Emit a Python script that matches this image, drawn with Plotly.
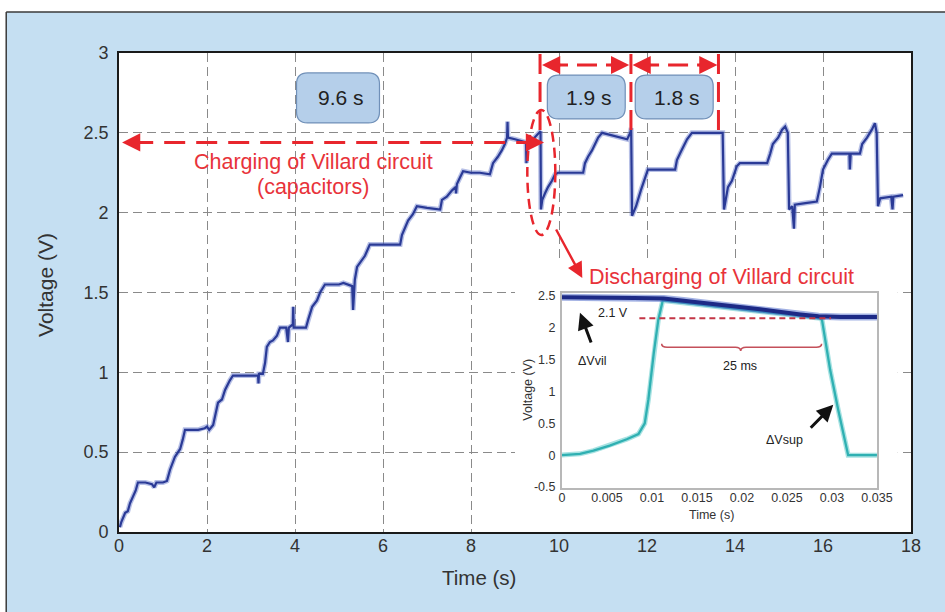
import plotly.graph_objects as go

# ---------------- data ----------------
main_t = [0.02, 0.05, 0.14, 0.20, 0.25, 0.32, 0.38, 0.43, 0.60, 0.75, 0.80, 0.85, 1.00, 1.09,
          1.16, 1.27, 1.35, 1.39, 1.45, 1.50, 1.80, 1.95, 2.00, 2.05, 2.14, 2.18, 2.25, 2.34,
          2.41, 2.52, 2.59, 2.90, 3.16, 3.17, 3.18, 3.27, 3.32, 3.36, 3.43, 3.50, 3.59, 3.66,
          3.80, 3.84, 3.86, 3.95, 3.96, 3.97, 4.25, 4.30, 4.39, 4.50, 4.57, 4.68, 5.00, 5.10,
          5.30, 5.32, 5.34, 5.36, 5.41, 5.52, 5.59, 5.70, 6.39, 6.43, 6.50, 6.57, 6.68, 6.77,
          7.00, 7.30, 7.34, 7.45, 7.57, 7.65, 7.66, 7.68, 7.75, 7.82, 8.00, 8.20, 8.43, 8.50,
          8.61, 8.70, 8.77, 8.82, 8.83, 8.84, 9.00, 9.25, 9.26, 9.28, 9.41, 9.55, 9.58, 9.59,
          9.62, 9.68, 9.75, 9.84, 9.91, 9.98, 10.30, 10.55, 10.59, 10.66, 10.75, 10.82, 10.89,
          10.98, 11.30, 11.55, 11.62, 11.64, 11.66, 11.75, 11.86, 11.95, 12.02, 12.64, 12.68,
          12.75, 12.82, 12.91, 13.02, 13.70, 13.72, 13.75, 13.84, 13.93, 14.04, 14.11, 14.73,
          14.80, 14.86, 14.98, 15.07, 15.14, 15.20, 15.23, 15.30, 15.34, 15.36, 15.60, 15.86,
          15.93, 16.00, 16.11, 16.20, 16.60, 16.61, 16.63, 16.84, 16.89, 17.00, 17.11, 17.18,
          17.22, 17.25, 17.30, 17.55, 17.58, 17.60, 17.82]
main_v = [0.03, 0.06, 0.12, 0.13, 0.18, 0.22, 0.26, 0.31, 0.31, 0.30, 0.28, 0.31, 0.31, 0.32,
          0.39, 0.47, 0.50, 0.52, 0.58, 0.64, 0.64, 0.65, 0.66, 0.64, 0.67, 0.72, 0.81, 0.83,
          0.89, 0.95, 0.98, 0.98, 0.98, 0.93, 0.99, 0.99, 1.06, 1.16, 1.19, 1.20, 1.23, 1.28,
          1.28, 1.19, 1.28, 1.30, 1.41, 1.28, 1.28, 1.33, 1.41, 1.45, 1.50, 1.55, 1.55, 1.56,
          1.54, 1.39, 1.55, 1.58, 1.66, 1.70, 1.73, 1.80, 1.80, 1.86, 1.91, 1.95, 1.99, 2.04,
          2.03, 2.02, 2.08, 2.10, 2.14, 2.16, 2.12, 2.18, 2.22, 2.26, 2.25, 2.25, 2.24, 2.31,
          2.35, 2.39, 2.43, 2.47, 2.57, 2.47, 2.46, 2.44, 2.31, 2.44, 2.46, 2.50, 2.51, 2.02,
          2.08, 2.12, 2.16, 2.20, 2.24, 2.25, 2.25, 2.25, 2.31, 2.35, 2.39, 2.43, 2.47,
          2.50, 2.48, 2.46, 2.50, 2.53, 1.98, 2.04, 2.14, 2.22, 2.27, 2.27, 2.33,
          2.37, 2.41, 2.46, 2.50, 2.50, 2.50, 2.02, 2.16, 2.20, 2.29, 2.31, 2.31,
          2.37, 2.43, 2.47, 2.52, 2.54, 2.50, 2.02, 2.04, 1.90, 2.05, 2.06, 2.07,
          2.16, 2.27, 2.33, 2.37, 2.37, 2.27, 2.37, 2.37, 2.43, 2.47, 2.52, 2.56,
          2.50, 2.04, 2.09, 2.10, 2.02, 2.10, 2.11]

vsup_t = [0.0, 0.002, 0.0035, 0.0053, 0.0072, 0.0085, 0.0092, 0.0096, 0.0102, 0.0107, 0.0112,
          0.013, 0.0165, 0.022, 0.0258, 0.0287, 0.0289, 0.0298, 0.0307, 0.0318, 0.035]
vsup_v = [0.0, 0.02, 0.07, 0.15, 0.25, 0.33, 0.50, 0.87, 1.60, 2.12, 2.43,
          2.40, 2.35, 2.26, 2.20, 2.15, 2.12, 1.34, 0.71, 0.0, 0.0]

vvil_t = [0.0, 0.004, 0.008, 0.0113, 0.0135, 0.0165, 0.019, 0.022, 0.0245, 0.0265, 0.0285,
          0.031, 0.035]
vvil_v = [2.48, 2.48, 2.47, 2.46, 2.43, 2.38, 2.34, 2.29, 2.24, 2.21, 2.18, 2.17, 2.17]

main_xticks = [0, 2, 4, 6, 8, 10, 12, 14, 16, 18]
main_yticks = [0, 0.5, 1, 1.5, 2, 2.5, 3]
inset_xticks = [0, 0.005, 0.01, 0.015, 0.02, 0.025, 0.03, 0.035]
inset_xlabels = ["0", "0.005", "0.01", "0.015", "0.02", "0.025", "0.03", "0.035"]
inset_yticks = [-0.5, 0, 0.5, 1, 1.5, 2, 2.5]
inset_ylabels = ["-0.5", "0", "0.5", "1", "1.5", "2", "2.5"]

FONT = "Liberation Sans, Arial, sans-serif"
RED = "#e8262d"
BLUEBG = "#c5dff2"

fig = go.Figure()

# main trace (halo + core)
fig.add_trace(go.Scatter(x=main_t, y=main_v, mode="lines",
                         line=dict(color="rgba(95,115,200,0.45)", width=5),
                         hoverinfo="skip", showlegend=False, xaxis="x", yaxis="y"))
fig.add_trace(go.Scatter(x=main_t, y=main_v, mode="lines",
                         line=dict(color="#2a3a96", width=2.2),
                         hoverinfo="skip", showlegend=False, xaxis="x", yaxis="y"))

# inset traces
fig.add_trace(go.Scatter(x=vsup_t, y=vsup_v, mode="lines",
                         line=dict(color="rgba(60,190,190,0.45)", width=5),
                         hoverinfo="skip", showlegend=False, xaxis="x2", yaxis="y2"))
fig.add_trace(go.Scatter(x=vsup_t, y=vsup_v, mode="lines",
                         line=dict(color="#2fb0b2", width=2.3),
                         hoverinfo="skip", showlegend=False, xaxis="x2", yaxis="y2"))
fig.add_trace(go.Scatter(x=vvil_t, y=vvil_v, mode="lines",
                         line=dict(color="rgba(70,100,200,0.5)", width=7),
                         hoverinfo="skip", showlegend=False, xaxis="x2", yaxis="y2"))
fig.add_trace(go.Scatter(x=vvil_t, y=vvil_v, mode="lines",
                         line=dict(color="#1d2a86", width=4),
                         hoverinfo="skip", showlegend=False, xaxis="x2", yaxis="y2"))


def rrect(x0, x1, y0, y1, rx=0.25, ry=0.07):
    return (f"M {x0+rx},{y1} L {x1-rx},{y1} Q {x1},{y1} {x1},{y1-ry} "
            f"L {x1},{y0+ry} Q {x1},{y0} {x1-rx},{y0} L {x0+rx},{y0} "
            f"Q {x0},{y0} {x0},{y0+ry} L {x0},{y1-ry} Q {x0},{y1} {x0+rx},{y1} Z")


shapes = []
# outer frame: white strips + dark border
shapes.append(dict(type="rect", xref="paper", yref="paper", x0=-0.2, x1=1.2, y0=1.0856, y1=1.3,
                   fillcolor="white", line=dict(width=0), layer="below"))
shapes.append(dict(type="rect", xref="paper", yref="paper", x0=-0.2, x1=-0.1424, y0=-0.3, y1=1.3,
                   fillcolor="white", line=dict(width=0), layer="below"))
shapes.append(dict(type="line", xref="paper", yref="paper", x0=-0.1424, x1=1.2, y0=1.0856, y1=1.0856,
                   line=dict(color="#3a3a3a", width=1.5), layer="below"))
shapes.append(dict(type="line", xref="paper", yref="paper", x0=-0.1424, x1=-0.1424, y0=-0.3, y1=1.0856,
                   line=dict(color="#3a3a3a", width=1.5), layer="below"))
# white area behind the inset (covers main grid)
shapes.append(dict(type="rect", xref="x", yref="y", x0=9.0, x1=17.7, y0=0, y1=1.685,
                   fillcolor="white", line=dict(width=0), layer="between"))

# boxes
box_style = dict(fillcolor="#b5cfea", line=dict(color="#7090b8", width=1.2), layer="above")
shapes.append(dict(type="path", xref="x", yref="y", path=rrect(4.035, 5.92, 2.562, 2.875), **box_style))
shapes.append(dict(type="path", xref="x", yref="y", path=rrect(9.735, 11.505, 2.587, 2.862), **box_style))
shapes.append(dict(type="path", xref="x", yref="y", path=rrect(11.733, 13.504, 2.587, 2.862), **box_style))

# red dashed lines
dl = dict(color=RED, width=3, dash="21px,11px")
shapes.append(dict(type="line", xref="x", yref="y", x0=0.3, x1=9.4, y0=2.44, y1=2.44, line=dl, layer="above"))
vl = dict(color=RED, width=3, dash="20px,8px")
for tx in [9.569, 11.635, 13.624]:
    shapes.append(dict(type="line", xref="x", yref="y", x0=tx, x1=tx, y0=2.518, y1=3.0, line=vl, layer="above"))
for a, b in [(9.75, 11.45), (11.82, 13.45)]:
    shapes.append(dict(type="line", xref="x", yref="y", x0=a, x1=b, y0=2.925, y1=2.925,
                       line=dict(color=RED, width=3, dash="20px,9px"), layer="above"))
# ellipse
shapes.append(dict(type="circle", xref="x", yref="y", x0=9.28, x1=9.916, y0=1.86, y1=2.643,
                   line=dict(color=RED, width=2.5, dash="10px,6px"), layer="above"))

# inset red dashed level line and brace
shapes.append(dict(type="line", xref="x2", yref="y2", x0=0.0086, x1=0.0299, y0=2.15, y1=2.15,
                   line=dict(color="#c43646", width=2, dash="6px,4px"), layer="above"))
t0, tc, t1 = 0.01108, 0.01986, 0.02885
yb, ye, yc = 1.695, 1.75, 1.635
d = 0.0006
brace = (f"M {t0},{ye} Q {t0},{yb} {t0+d},{yb} L {tc-d},{yb} Q {tc},{yb} {tc},{yc} "
         f"Q {tc},{yb} {tc+d},{yb} L {t1-d},{yb} Q {t1},{yb} {t1},{ye}")
shapes.append(dict(type="path", xref="x2", yref="y2", path=brace,
                   line=dict(color="#c4505a", width=1.6), layer="above"))

annotations = []
# box texts
for tx, txt in [(5.045, "9.6 s"), (10.68, "1.9 s"), (12.686, "1.8 s")]:
    annotations.append(dict(x=tx, y=2.72, xref="x", yref="y", text=txt, showarrow=False,
                            xanchor="center", yanchor="middle",
                            font=dict(family=FONT, size=21, color="#222")))
# arrowheads
def head(x, y, ax, ay=0):
    return dict(x=x, y=y, xref="x", yref="y", ax=ax, ay=ay, text="", showarrow=True,
                arrowhead=2, arrowsize=1.4, arrowwidth=2.6, arrowcolor=RED, standoff=0)
annotations.append(head(0.07, 2.44, 22))
annotations.append(head(9.66, 2.44, -22))
annotations.append(head(9.614, 2.925, 20))
annotations.append(head(11.596, 2.925, -20))
annotations.append(head(11.671, 2.925, 20))
annotations.append(head(13.601, 2.925, -20))
# solid arrow from ellipse to discharging text
annotations.append(dict(x=10.53, y=1.591, ax=9.916, ay=1.904, xref="x", yref="y", axref="x", ayref="y",
                        text="", showarrow=True, arrowhead=2, arrowsize=1.3, arrowwidth=2.4,
                        arrowcolor=RED, standoff=0))
# red texts
rf = dict(family=FONT, size=21.5, color="#e8333a")
annotations.append(dict(x=4.42, y=2.319, xref="x", yref="y", text="Charging of Villard circuit",
                        showarrow=False, xanchor="center", yanchor="middle", font=rf))
annotations.append(dict(x=4.42, y=2.163, xref="x", yref="y", text="(capacitors)",
                        showarrow=False, xanchor="center", yanchor="middle", font=rf))
annotations.append(dict(x=10.643, y=1.599, xref="x", yref="y", text="Discharging of Villard circuit",
                        showarrow=False, xanchor="left", yanchor="middle", font=rf))
# axis titles (main)
annotations.append(dict(x=0.4545, y=-0.094, xref="paper", yref="paper", text="Time (s)",
                        xanchor="center", yanchor="middle",
                        showarrow=False, font=dict(family=FONT, size=20.5, color="#333")))
annotations.append(dict(x=-0.0922, y=0.5157, xref="paper", yref="paper", text="Voltage (V)",
                        xanchor="center", yanchor="middle",
                        textangle=-90, showarrow=False, font=dict(family=FONT, size=21, color="#333")))
# inset axis titles
annotations.append(dict(x=0.748, y=0.0355, xref="paper", yref="paper", text="Time (s)",
                        xanchor="center", yanchor="middle",
                        showarrow=False, font=dict(family=FONT, size=12.5, color="#333")))
annotations.append(dict(x=0.516, y=0.2965, xref="paper", yref="paper", text="Voltage (V)",
                        xanchor="center", yanchor="middle", textangle=-90,
                        showarrow=False, font=dict(family=FONT, size=12.5, color="#333")))
# inset texts
inf = dict(family=FONT, size=12.5, color="#222")
for tx, ty, txt in [(0.00572, 2.23, "2.1 V"), (0.0034, 1.485, "ΔVvil"),
                    (0.01983, 1.40, "25 ms"), (0.02478, 0.238, "ΔVsup")]:
    annotations.append(dict(x=tx, y=ty, xref="x2", yref="y2", text=txt, showarrow=False,
                            xanchor="center", yanchor="middle", font=inf))
# inset black arrows
annotations.append(dict(x=0.002, y=2.235, ax=0.0033, ay=1.747, xref="x2", yref="y2", axref="x2", ayref="y2",
                        text="", showarrow=True, arrowhead=2, arrowsize=1.1, arrowwidth=3,
                        arrowcolor="#111", standoff=0))
annotations.append(dict(x=0.03015, y=0.79, ax=0.02748, ay=0.407, xref="x2", yref="y2", axref="x2", ayref="y2",
                        text="", showarrow=True, arrowhead=2, arrowsize=1.1, arrowwidth=3,
                        arrowcolor="#111", standoff=0))

fig.update_layout(
    width=945, height=612,
    margin=dict(l=119, r=34, t=53, b=80, pad=0),
    paper_bgcolor=BLUEBG, plot_bgcolor="white",
    showlegend=False,
    font=dict(family=FONT, color="#333"),
    shapes=shapes, annotations=annotations,
    xaxis=dict(range=[0, 18], tickvals=main_xticks, showgrid=True, gridcolor="#8a8a8a",
               griddash="9px,5px", gridwidth=1.3, showline=True, mirror=True,
               linecolor="#1a1a1a", linewidth=1.6, zeroline=False, ticks="",
               ticklabelstandoff=-3, tickfont=dict(size=18, color="#333", family=FONT)),
    yaxis=dict(range=[0, 3], tickvals=main_yticks, showgrid=True, gridcolor="#8a8a8a",
               griddash="9px,5px", gridwidth=1.3, showline=True, mirror=True,
               linecolor="#1a1a1a", linewidth=1.6, zeroline=False, ticks="",
               ticklabelstandoff=5, tickfont=dict(size=18, color="#333", family=FONT)),
    xaxis2=dict(domain=[0.5593, 0.957], anchor="y2", range=[0, 0.035], tickvals=inset_xticks,
                ticktext=inset_xlabels, showgrid=False, zeroline=False, showline=True, mirror=True,
                linecolor="#b8b8b8", linewidth=2, ticks="", ticklabelstandoff=-3,
                tickfont=dict(size=12.5, color="#333", family=FONT)),
    yaxis2=dict(domain=[0.0919, 0.499], anchor="x2", range=[-0.516, 2.547], tickvals=inset_yticks,
                ticktext=inset_ylabels, showgrid=False, zeroline=False, showline=True, mirror=True,
                linecolor="#b8b8b8", linewidth=2, ticks="", ticklabelstandoff=2,
                tickfont=dict(size=12.5, color="#333", family=FONT)),
)

fig.write_html("out.html", config={"displayModeBar": False},
               post_script="document.body.style.margin='0px';document.body.style.overflow='hidden';")
